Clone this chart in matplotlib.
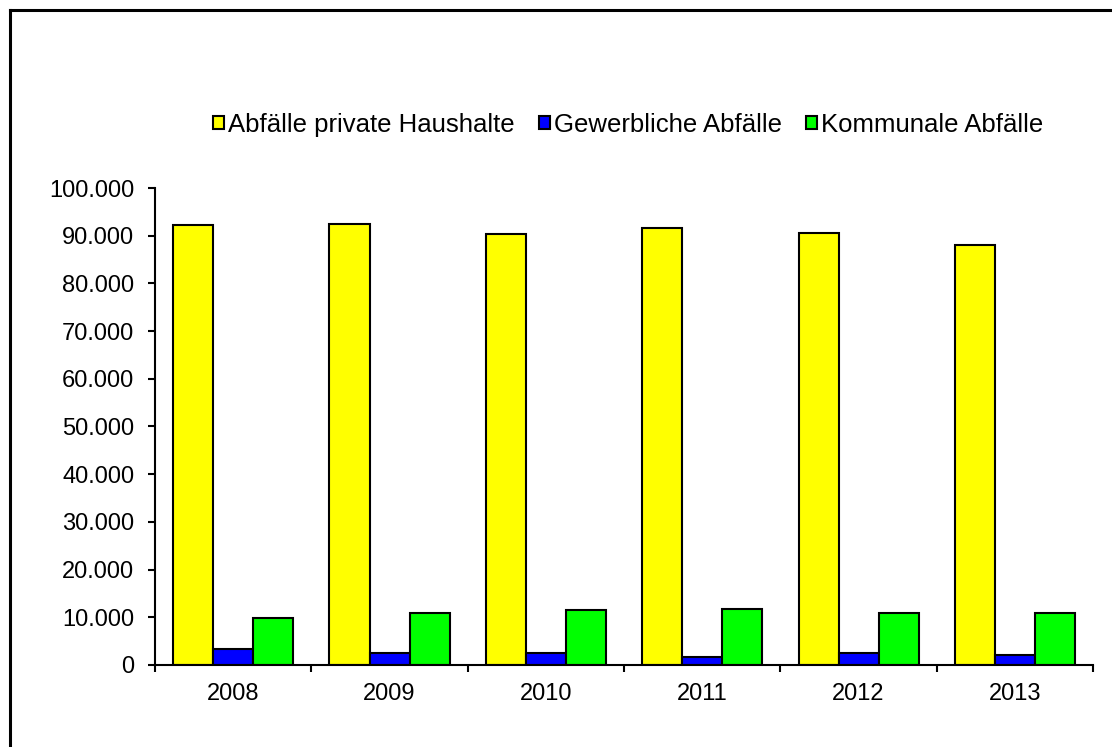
import numpy as np
import matplotlib.pyplot as plt
from matplotlib.lines import Line2D
from matplotlib.ticker import FuncFormatter

plt.rcParams['font.family'] = ['Liberation Sans', 'DejaVu Sans']

# Abfallmengen je Jahr
jahre = ['2008', '2009', '2010', '2011', '2012', '2013']
haushalte = [92200, 92400, 90300, 91600, 90500, 88000]
gewerbe = [3300, 2600, 2600, 1600, 2450, 2100]
kommunal = [9900, 11000, 11600, 11800, 10800, 11000]

serien = ['Abfälle private Haushalte', 'Gewerbliche Abfälle', 'Kommunale Abfälle']
farben = ['#ffff00', '#0000ff', '#00ff00']

fig = plt.figure(figsize=(11.12, 7.47), dpi=100)
ax = fig.add_axes([0.1394, 0.1098, 0.8436, 0.6385])

x = np.arange(len(jahre))
w = 0.256
for i, (werte, name, farbe) in enumerate(zip([haushalte, gewerbe, kommunal], serien, farben)):
    ax.bar(x + (i - 1) * w, werte, w, color=farbe, edgecolor='black',
           linewidth=1.5, label=name)

ax.set_xlim(-0.5, len(jahre) - 0.5)
ax.set_ylim(0, 100000)
ax.set_yticks(np.arange(0, 100001, 10000))
ax.yaxis.set_major_formatter(FuncFormatter(lambda v, p: '{:,.0f}'.format(v).replace(',', '.')))

# Kategoriegrenzen als Ticks, Jahreszahlen in der Mitte
ax.set_xticks(np.arange(-0.5, len(jahre), 1.0))
ax.set_xticklabels([])
ax.set_xticks(x, minor=True)
ax.set_xticklabels(jahre, minor=True)
ax.tick_params(axis='x', which='minor', length=0, pad=13, labelsize=17)
ax.tick_params(axis='x', which='major', length=5, width=1.5, direction='out')
ax.tick_params(axis='y', length=5, width=1.5, direction='out', labelsize=17, pad=10)

for s in ['top', 'right']:
    ax.spines[s].set_visible(False)
for s in ['left', 'bottom']:
    ax.spines[s].set_linewidth(1.5)

fig.legend(loc='center', bbox_to_anchor=(0.565, 0.833), ncol=3, frameon=False,
           fontsize=18.5, handlelength=0.42, handleheight=0.42, handletextpad=0.15,
           columnspacing=0.95)

# Rahmen links und oben
fig.add_artist(Line2D([0.009, 0.009], [0.0, 0.987], color='black', lw=2.2))
fig.add_artist(Line2D([0.009, 1.0], [0.987, 0.987], color='black', lw=2.2))

fig.savefig('out.png', dpi=100)
